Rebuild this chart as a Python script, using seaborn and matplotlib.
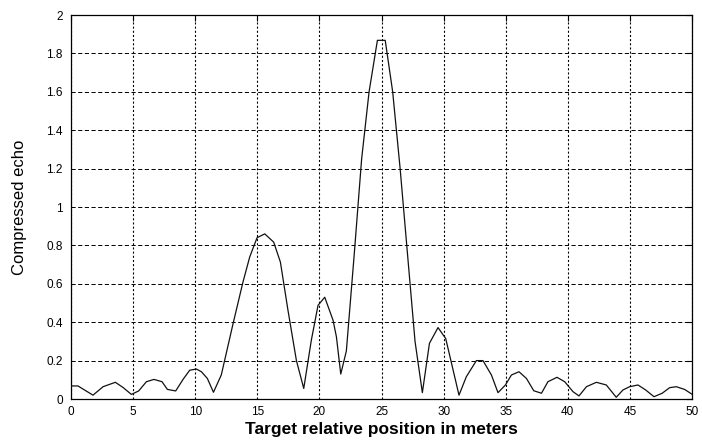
import matplotlib
matplotlib.use("Agg")
import matplotlib.pyplot as plt
import seaborn as sns
import pandas as pd

# Data
position = [0, 0.56, 1.77, 2.58, 3.57, 4.19, 4.86, 5.45, 6.07, 6.68, 7.33, 7.76,
            8.43, 9.02, 9.56, 10.1, 10.5, 10.98, 11.47, 12.1, 13.04, 13.85, 14.39,
            14.98, 15.6, 16.32, 16.86, 17.47, 18.15, 18.74, 19.35, 19.89, 20.43,
            21.1, 21.37, 21.72, 22.17, 22.8, 23.4, 24.0, 24.67, 25.3, 25.9, 26.5,
            27.1, 27.7, 28.29, 28.86, 29.55, 30.17, 31.24, 31.83, 32.64, 33.17,
            33.85, 34.38, 34.98, 35.46, 36.07, 36.67, 37.26, 37.88, 38.4, 39.13,
            39.75, 40.42, 40.9, 41.5, 42.3, 43.1, 43.9, 44.44, 44.98, 45.65, 46.27,
            46.94, 47.6, 48.2, 48.74, 49.4, 50.0]
echo = [0.068, 0.068, 0.02, 0.064, 0.087, 0.06, 0.024, 0.042, 0.09, 0.102, 0.09, 0.05,
        0.042, 0.102, 0.15, 0.156, 0.142, 0.107, 0.035, 0.125, 0.39, 0.61, 0.74,
        0.84, 0.86, 0.817, 0.713, 0.462, 0.2, 0.055, 0.306, 0.488, 0.53,
        0.41, 0.324, 0.13, 0.25, 0.75, 1.25, 1.6, 1.868, 1.868, 1.6, 1.2,
        0.75, 0.3, 0.033, 0.29, 0.372, 0.315, 0.02, 0.116, 0.2, 0.2,
        0.125, 0.033, 0.073, 0.125, 0.142, 0.107, 0.043, 0.03, 0.09, 0.113,
        0.09, 0.038, 0.016, 0.064, 0.087, 0.073, 0.009, 0.047, 0.064, 0.073, 0.047,
        0.012, 0.03, 0.059, 0.064, 0.05, 0.025]
assert len(position) == len(echo)

x_ticks = [0, 5, 10, 15, 20, 25, 30, 35, 40, 45, 50]
y_ticks = [0, 0.2, 0.4, 0.6, 0.8, 1.0, 1.2, 1.4, 1.6, 1.8, 2.0]
y_tick_labels = ["0", "0.2", "0.4", "0.6", "0.8", "1", "1.2", "1.4", "1.6", "1.8", "2"]

sns.set_style("white")
plt.rcParams['font.family'] = ['Liberation Sans', 'DejaVu Sans']
plt.rcParams['lines.scale_dashes'] = False

df = pd.DataFrame({"pos": position, "echo": echo})

fig = plt.figure(figsize=(7.02, 4.47), dpi=100)
ax = fig.add_axes([71 / 702, 1 - 399 / 447, (692 - 71) / 702, (399 - 15) / 447])

sns.lineplot(data=df, x="pos", y="echo", ax=ax, color="#111111", linewidth=0.9,
             estimator=None, sort=False, zorder=3)

ax.set_xlim(0, 50)
ax.set_ylim(0, 2)
ax.set_xticks(x_ticks)
ax.set_xticklabels([str(t) for t in x_ticks])
ax.set_yticks(y_ticks)
ax.set_yticklabels(y_tick_labels)

ax.yaxis.grid(True, color="black", linestyle=(0, (3, 1.8)), linewidth=0.7)
ax.xaxis.grid(True, color="black", linestyle=(0, (1.5, 1.5)), linewidth=0.8)
ax.set_axisbelow(True)

for s in ax.spines.values():
    s.set_visible(True)
    s.set_color("black")
    s.set_linewidth(0.9)

ax.tick_params(axis="both", direction="in", length=4, width=0.8, color="black",
               labelsize=8.5, labelcolor="black", top=True, right=True)
ax.tick_params(axis="y", pad=6)
ax.tick_params(axis="x", pad=5)

ax.set_xlabel("Target relative position in meters", fontsize=12.5, fontweight="bold",
              color="black", labelpad=3)
ax.set_ylabel("Compressed echo", fontsize=12, color="black", labelpad=14,
              family=['Liberation Sans Narrow', 'Liberation Sans', 'DejaVu Sans'])

fig.savefig("out.png", dpi=100)
